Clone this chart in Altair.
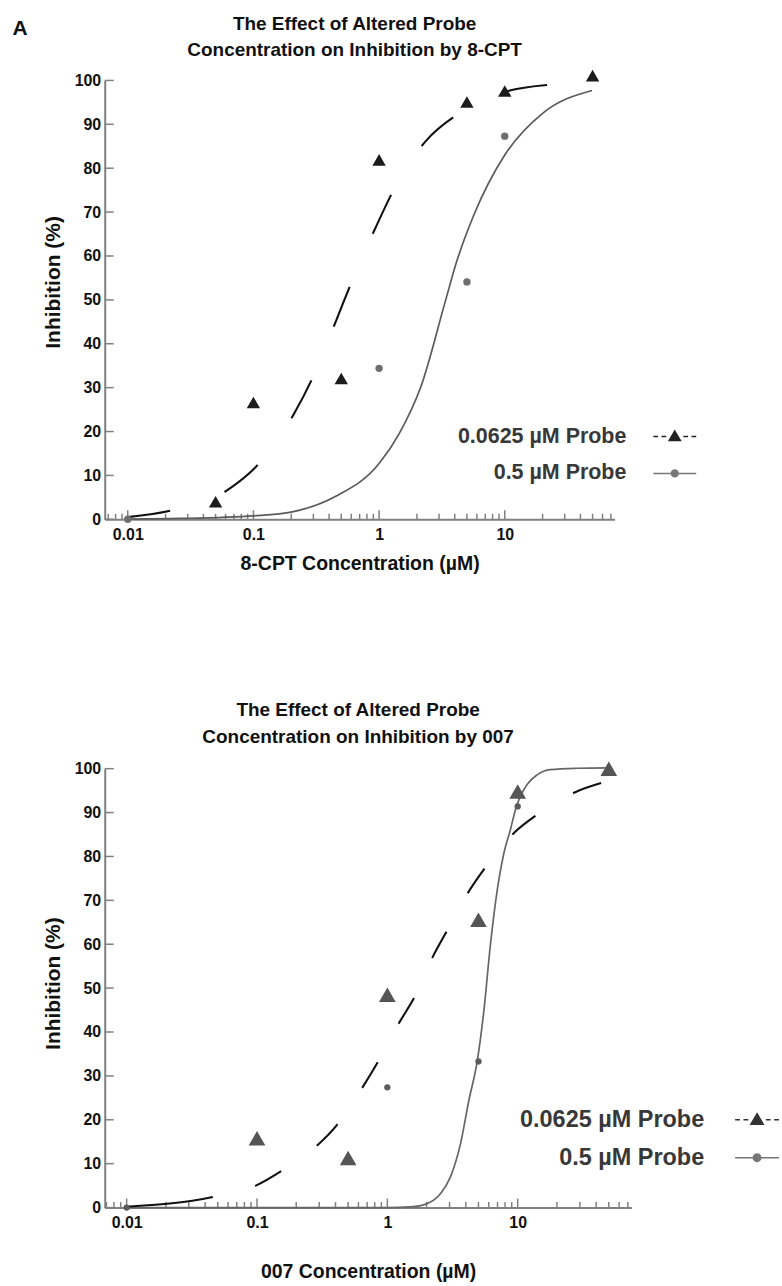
import altair as alt
import pandas as pd

FONT = "Liberation Sans, Arial, Helvetica, sans-serif"
TXT = "#111111"
AXC = "#808080"

probes = ["0.0625 \u00b5M Probe", "0.5 \u00b5M Probe"]

# axis ticks / labels
x_major = [0.01, 0.1, 1, 10]
x_minor = [0.007, 0.008, 0.009,
           0.02, 0.03, 0.04, 0.05, 0.06, 0.07, 0.08, 0.09,
           0.2, 0.3, 0.4, 0.5, 0.6, 0.7, 0.8, 0.9,
           2, 3, 4, 5, 6, 7, 8, 9,
           20, 30, 40, 50, 60, 70]
y_ticks = [0, 10, 20, 30, 40, 50, 60, 70, 80, 90, 100]

# ---- Panel A : 8-CPT ----
a_tri_x = [0.05, 0.1, 0.5, 1, 5, 10, 50]
a_tri_y = [4.0, 26.6, 32.1, 81.9, 95.1, 97.6, 101.1]
a_cir_x = [0.01, 1, 5, 10]
a_cir_y = [0.0, 34.4, 54.1, 87.3]
a_dash_x = [0.01, 0.023, 0.0625, 0.114, 0.211, 0.303, 0.457, 0.609, 0.95, 1.32, 2.37, 4.27, 11, 24, 50]
a_dash_y = [0.5, 2.1, 6.7, 13.1, 24.1, 32.9, 45.4, 54.3, 66.8, 75.3, 86.3, 92.4, 97.7, 99.1, 99.7]
a_sol_x = [0.01, 0.026, 0.1, 0.204, 0.448, 1, 1.45, 2.15, 3.39, 4.12, 5.71, 10, 20, 49.5]
a_sol_y = [0.05, 0.2, 0.8, 1.7, 5.2, 12.7, 19.6, 30.2, 50.0, 58.5, 69.5, 83.0, 92.5, 97.7]

# ---- Panel B : 007 ----
b_tri_x = [0.1, 0.5, 1, 5, 10, 50]
b_tri_y = [15.8, 11.3, 48.5, 65.6, 94.8, 100.0]
b_cir_x = [0.01, 1, 5, 10]
b_cir_y = [0.0, 27.4, 33.3, 91.4]
b_dash_x = [0.01, 0.0457, 0.098, 0.157, 0.283, 0.41, 0.636, 0.851, 1.22, 1.64, 2.22, 2.9, 4.21, 5.78, 9.48, 14.2, 27.9, 47]
b_dash_y = [0.2, 2.4, 5.0, 8.5, 13.9, 18.8, 27.1, 33.3, 41.9, 48.3, 57.0, 63.3, 72.0, 77.9, 85.5, 89.6, 94.7, 97.0]
b_sol_x = [0.01, 1, 1.51, 2.02, 2.56, 3.05, 3.64, 4.22, 4.89, 5.5, 6.18, 6.95, 7.8, 8.79, 9.77, 10.5, 11.8, 14.1, 17.8, 28.5, 50]
b_sol_y = [0.0, 0.0, 0.15, 0.9, 3.2, 7.0, 14.5, 24.4, 33.3, 44.8, 60.0, 72.1, 80.5, 86.1, 91.4, 93.7, 96.4, 98.6, 99.8, 100.1, 100.2]


def legend_paths(u, gap, width):
    """Legend symbol paths (unit = u px) drawn to the right of the labels."""
    a = (gap + u) / u          # left edge of drawing, relative to symbol centre
    w = width / u
    c = a + w / 2

    def X(f):
        return round(a + f * w, 3)

    tri = (f"M{X(0)},0H{X(0.11)}M{X(0.19)},0H{X(0.3)}"
           f"M{X(0.7)},0H{X(0.81)}M{X(0.89)},0H{X(1)}"
           f"M{round(c, 3)},-0.55L{round(c + 0.56, 3)},0.4L{round(c - 0.56, 3)},0.4Z")
    r = 0.34
    cir = (f"M{X(0)},0H{X(1)}M{round(c + r, 3)},0A{r},{r} 0 1,1 {round(c - r, 3)},0"
           f"A{r},{r} 0 1,1 {round(c + r, 3)},0Z")
    return [tri, cir]


def build(p):
    xs = alt.Scale(type="log", domain=p["xdom"], nice=False)
    ys = alt.Scale(domain=[0, 100], nice=False, zero=True)
    xax = alt.Axis(values=x_major, format="~g", ticks=False, grid=False,
                   domainColor=AXC, domainWidth=2,
                   labelFont=FONT, labelFontSize=16, labelFontWeight="bold",
                   labelColor=TXT, labelPadding=7,
                   title=p["xtitle"], titleFont=FONT, titleFontSize=19.5,
                   titleFontWeight="bold", titleColor=TXT, titlePadding=p["xtp"])
    yax = alt.Axis(values=y_ticks, ticks=False, grid=False,
                   domainColor=AXC, domainWidth=2,
                   labelFont=FONT, labelFontSize=16, labelFontWeight="bold",
                   labelColor=TXT, labelPadding=4,
                   title="Inhibition (%)", titleFont=FONT, titleFontSize=21,
                   titleFontWeight="bold", titleColor=TXT, titlePadding=11,
                   titleY=p["tty"])

    def X(f):
        return alt.X(f + ":Q", scale=xs, axis=xax)

    def Y(f):
        return alt.Y(f + ":Q", scale=ys, axis=yax)

    tri = pd.DataFrame({"x": p["tri_x"], "y": p["tri_y"], "probe": probes[0]})
    cir = pd.DataFrame({"x": p["cir_x"], "y": p["cir_y"], "probe": probes[1]})
    pts = pd.concat([tri, cir], ignore_index=True)
    dash = pd.DataFrame({"x": p["dash_x"], "y": p["dash_y"]})
    sol = pd.DataFrame({"x": p["sol_x"], "y": p["sol_y"]})
    tmaj = pd.DataFrame({"t": x_major})
    tmin = pd.DataFrame({"t": x_minor})
    ytk = pd.DataFrame({"v": y_ticks})
    H = p["h"]

    major = alt.Chart(tmaj).mark_rule(color=AXC, strokeWidth=1.5).encode(
        x=X("t"), y=alt.value(H), y2=alt.value(H - 9))
    minor = alt.Chart(tmin).mark_rule(color=AXC, strokeWidth=1.5).encode(
        x=X("t"), y=alt.value(H), y2=alt.value(H - 5.5))
    yt = alt.Chart(ytk).mark_rule(color=AXC, strokeWidth=1.5).encode(
        y=Y("v"), x=alt.value(0), x2=alt.value(9))

    solid = alt.Chart(sol).mark_line(color=p["solc"], strokeWidth=1.7,
                                     interpolate="monotone").encode(x=X("x"), y=Y("y"))
    dashed = alt.Chart(dash).mark_line(color="#111111", strokeWidth=2.1,
                                       strokeDash=p["dash"],
                                       interpolate="monotone").encode(x=X("x"), y=Y("y"))
    cpts = alt.Chart(cir).mark_point(shape="circle", filled=True, opacity=1,
                                     size=p["csize"], color=p["cc"]).encode(x=X("x"), y=Y("y"))
    tpts = alt.Chart(tri).mark_point(shape="triangle-up", filled=True, opacity=1,
                                     size=p["tsize"], color=p["tc"]).encode(x=X("x"), y=Y("y"))

    u = p["u"]
    LEG = alt.Legend(title=None, orient="none", legendX=p["lx"], legendY=p["ly"],
                     labelAlign="right", labelOffset=0, symbolOffset=0,
                     labelFont=FONT,
                     labelFontSize=p["lfs"], labelFontWeight="bold",
                     labelColor="#383838", labelLimit=400,
                     symbolSize=(2 * u) ** 2, symbolStrokeWidth=1.5, symbolOpacity=1,
                     rowPadding=p["rp"], padding=0)
    leg = alt.Chart(pts).mark_point(filled=True, opacity=0, strokeWidth=1.5).encode(
        x=X("x"), y=Y("y"),
        shape=alt.Shape("probe:N", scale=alt.Scale(domain=probes,
                                                   range=legend_paths(u, p["lgap"], p["lw"])),
                        legend=LEG),
        color=alt.Color("probe:N", scale=alt.Scale(domain=probes, range=p["legc"]), legend=LEG),
        stroke=alt.Stroke("probe:N", scale=alt.Scale(domain=probes, range=p["legc"]), legend=LEG),
    )

    layers = [major, minor, yt, solid, dashed, cpts, tpts, leg]
    if p.get("letter"):
        lt = alt.Chart(pd.DataFrame({"k": [0]})).mark_text(
            text=p["letter"], font=FONT, fontSize=21, fontWeight="bold", color=TXT,
            align="center", baseline="middle").encode(x=alt.value(-85), y=alt.value(-52))
        layers.append(lt)

    return alt.layer(*layers).properties(
        width=p["w"], height=H,
        title=alt.TitleParams(text=p["title"], font=FONT, fontSize=19, fontWeight="bold",
                              color=TXT, anchor="middle", frame="group", dx=p["tdx"],
                              lineHeight=27, offset=p["toff"]),
    )


top = build(dict(
    xdom=[0.00656, 74.6], w=511, h=440,
    xtitle="8-CPT Concentration (\u00b5M)", xtp=12, tty=202,
    tri_x=a_tri_x, tri_y=a_tri_y, cir_x=a_cir_x, cir_y=a_cir_y,
    dash_x=a_dash_x, dash_y=a_dash_y, sol_x=a_sol_x, sol_y=a_sol_y,
    solc="#5a5a5a", dash=[43, 58], csize=55, cc="#6e6e6e", tsize=180, tc="#1c1c1c",
    u=10, lgap=28, lw=43, lx=501, ly=346, lfs=21.5, rp=15, legc=["#222222", "#777777"],
    letter="A",
    title=["The Effect of Altered Probe", "Concentration on Inhibition by 8-CPT"],
    tdx=-5, toff=-43,
))

bottom = build(dict(
    xdom=[0.00679, 74.5], w=528, h=440,
    xtitle="007 Concentration (\u00b5M)", xtp=32, tty=215,
    tri_x=b_tri_x, tri_y=b_tri_y, cir_x=b_cir_x, cir_y=b_cir_y,
    dash_x=b_dash_x, dash_y=b_dash_y, sol_x=b_sol_x, sol_y=b_sol_y,
    solc="#666666", dash=[87, 44] + [30, 44] * 16, csize=40, cc="#5c5c5c", tsize=280, tc="#555555",
    u=11, lgap=32, lw=44, lx=577, ly=340, lfs=23.5, rp=14, legc=["#333333", "#777777"],
    title=["The Effect of Altered Probe", "Concentration on Inhibition by 007"],
    tdx=-10, toff=14,
))

chart = alt.vconcat(top, bottom, spacing=250, bounds="flush").resolve_scale(
    color="independent", shape="independent", stroke="independent",
    x="independent", y="independent",
).resolve_legend(
    color="independent", shape="independent", stroke="independent",
).properties(
    padding={"left": 12, "top": 13, "right": 0, "bottom": 0},
).configure_view(strokeWidth=0)

chart.save("out.html", embed_options={"renderer": "svg", "actions": False})
